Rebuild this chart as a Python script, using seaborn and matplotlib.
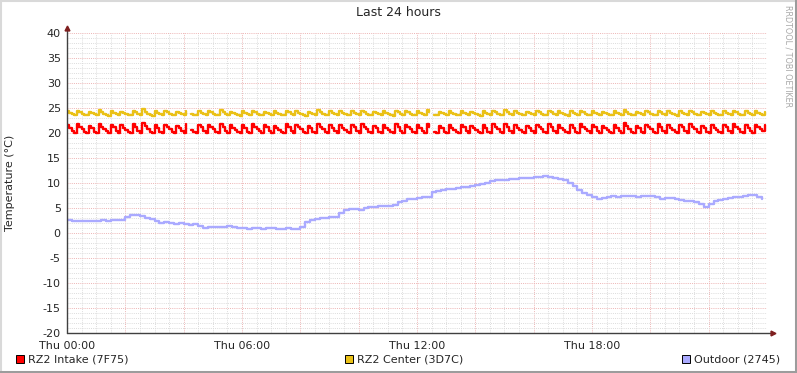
import numpy as np
import pandas as pd
import matplotlib
matplotlib.use("Agg")
import matplotlib.pyplot as plt
from matplotlib.ticker import MultipleLocator, FuncFormatter
from matplotlib.patches import Rectangle
from matplotlib.lines import Line2D
import seaborn as sns

nan = np.nan

# RZ2 Intake, 5 minute samples from Thu 00:00
intake = [
    21.6, 21.1, 20.4, 20.1, 21.8, 21.3, 20.8, 20.3, 20.1,
    21.5, 21.0, 20.3, 20.0, 21.9, 21.2, 20.9, 20.4, 20.1,
    21.7, 21.2, 20.5, 20.1, 21.6, 21.1, 20.7, 20.2, 20.0,
    21.8, 21.3, 20.4, 20.1, 22.0, 21.4, 20.9, 20.3, 20.1,
    21.6, 21.0, 20.3, 20.0, 21.7, 21.2, 20.8, 20.3, 20.0,
    21.5, 21.1, 20.4, 20.1, 21.8, nan, 20.7, 20.2, 20.0,
    21.6, 21.2, 20.5, 20.1, 21.7, 21.2, 20.8, 20.2, 20.0,
    21.9, 21.3, 20.4, 20.0, 21.6, 21.1, 20.7, 20.3, 20.1,
    21.7, 21.1, 20.3, 20.0, 21.8, 21.2, 20.9, 20.4, 20.1,
    21.6, 21.2, 20.4, 20.1, 21.5, 21.0, 20.6, 20.2, 20.0,
    21.8, 21.3, 20.5, 20.1, 21.7, 21.2, 20.8, 20.3, 20.0,
    21.5, 21.0, 20.3, 20.0, 21.9, 21.3, 20.8, 20.2, 20.0,
    21.6, 21.1, 20.4, 20.1, 21.6, 21.1, 20.7, 20.2, 20.0,
    21.7, 21.2, 20.4, 20.0, 21.8, 21.2, 20.8, 20.3, 20.1,
    21.5, 21.0, 20.3, 20.0, 21.6, 21.1, 20.7, 20.2, 20.0,
    21.8, 21.3, 20.5, 20.1, 21.7, 21.2, 20.8, 20.3, 20.0,
    21.6, 21.1, 20.4, 20.0, 21.9, 21.3, nan, 20.3, 20.1,
    21.5, 21.0, 20.3, 20.0, 21.6, 21.1, 20.6, 20.2, 20.0,
    21.7, 21.2, 20.4, 20.1, 21.5, 21.0, 20.7, 20.2, 20.0,
    21.6, 21.1, 20.3, 20.0, 21.8, 21.3, 20.8, 20.3, 20.1,
    21.8, 21.2, 20.5, 20.1, 21.6, 21.1, 20.7, 20.2, 20.0,
    21.5, 21.0, 20.4, 20.0, 21.7, 21.2, 20.8, 20.3, 20.0,
    21.9, 21.3, 20.4, 20.1, 21.6, 21.1, 20.6, 20.2, 20.0,
    21.6, 21.1, 20.3, 20.0, 21.8, 21.2, 20.9, 20.4, 20.1,
    21.7, 21.2, 20.5, 20.1, 21.5, 21.0, 20.6, 20.2, 20.0,
    21.6, 21.1, 20.4, 20.0, 22.0, 21.4, 20.9, 20.3, 20.1,
    21.5, 21.0, 20.3, 20.0, 21.7, 21.2, 20.8, 20.3, 20.0,
    21.8, 21.3, 20.4, 20.1, 21.6, 21.1, 20.7, 20.2, 20.0,
    21.6, 21.2, 20.5, 20.1, 21.9, 21.3, 20.8, 20.3, 20.1,
    21.5, 21.0, 20.3, 20.0, 21.6, 21.1, 20.7, 20.2, 20.0,
    21.7, 21.2, 20.4, 20.1, 21.8, 21.2, 20.8, 20.3, 20.0,
    21.6, 21.1, 20.4, 20.0, 21.7, 21.2, 20.8, 20.4, 21.6,
]

# RZ2 Center, 5 minute samples
center = [
    24.4, 24.1, 23.8, 23.6, 24.5, 24.2, 23.9, 23.7, 23.6,
    24.3, 24.0, 23.8, 23.6, 24.6, 24.2, 23.9, 23.7, 23.5,
    24.4, 24.1, 23.8, 23.6, 24.3, 24.0, 23.8, 23.7, 23.6,
    24.5, 24.2, 23.9, 23.7, 24.8, 24.3, 23.9, 23.6, 23.5,
    24.4, 24.0, 23.8, 23.6, 24.5, 24.2, 23.9, 23.7, 23.6,
    24.3, 24.1, 23.8, 23.6, 24.4, nan, 23.8, 23.7, 23.6,
    24.4, 24.1, 23.8, 23.6, 24.5, 24.2, 23.9, 23.7, 23.6,
    24.6, 24.2, 23.9, 23.7, 24.3, 24.0, 23.8, 23.6, 23.5,
    24.4, 24.1, 23.8, 23.6, 24.5, 24.2, 23.9, 23.7, 23.6,
    24.3, 24.0, 23.8, 23.6, 24.4, 24.1, 23.8, 23.7, 23.6,
    24.5, 24.2, 23.9, 23.7, 24.4, 24.1, 23.8, 23.6, 23.5,
    24.3, 24.0, 23.8, 23.6, 24.6, 24.2, 23.9, 23.7, 23.6,
    24.4, 24.1, 23.8, 23.6, 24.4, 24.1, 23.8, 23.7, 23.6,
    24.5, 24.1, 23.8, 23.6, 24.5, 24.2, 23.9, 23.7, 23.6,
    24.3, 24.0, 23.8, 23.6, 24.4, 24.1, 23.8, 23.6, 23.5,
    24.5, 24.2, 23.9, 23.7, 24.5, 24.2, 23.9, 23.7, 23.6,
    24.4, 24.1, 23.8, 23.6, 24.6, 24.2, nan, 23.7, 23.6,
    24.3, 24.0, 23.8, 23.6, 24.4, 24.1, 23.8, 23.7, 23.6,
    24.4, 24.1, 23.8, 23.6, 24.3, 24.0, 23.8, 23.6, 23.5,
    24.4, 24.1, 23.8, 23.6, 24.5, 24.2, 23.9, 23.7, 23.6,
    24.6, 24.2, 23.9, 23.7, 24.4, 24.1, 23.8, 23.7, 23.6,
    24.3, 24.0, 23.8, 23.6, 24.5, 24.2, 23.9, 23.7, 23.6,
    24.5, 24.2, 23.9, 23.7, 24.4, 24.1, 23.8, 23.6, 23.5,
    24.4, 24.1, 23.8, 23.6, 24.5, 24.2, 23.9, 23.7, 23.6,
    24.4, 24.1, 23.8, 23.6, 24.3, 24.0, 23.8, 23.7, 23.6,
    24.4, 24.1, 23.8, 23.6, 24.6, 24.2, 23.9, 23.7, 23.6,
    24.3, 24.0, 23.8, 23.6, 24.5, 24.2, 23.9, 23.7, 23.6,
    24.5, 24.2, 23.9, 23.7, 24.4, 24.1, 23.8, 23.6, 23.5,
    24.4, 24.1, 23.8, 23.6, 24.5, 24.2, 23.9, 23.7, 23.6,
    24.3, 24.0, 23.8, 23.6, 24.4, 24.1, 23.8, 23.7, 23.6,
    24.4, 24.1, 23.8, 23.6, 24.5, 24.2, 23.9, 23.7, 23.6,
    24.4, 24.1, 23.8, 23.6, 24.4, 24.1, 23.8, 23.7, 24.3,
]

# Outdoor, 10 minute samples, one row per hour
outdoor = [
    2.6, 2.5, 2.4, 2.5, 2.4, 2.5,
    2.5, 2.6, 2.5, 2.7, 2.6, 2.6,
    3.3, 3.6, 3.7, 3.5, 3.0, 2.9,
    2.5, 2.1, 2.2, 2.0, 1.9, 2.0,
    1.8, 1.7, 1.8, 1.4, 1.1, 1.2,
    1.2, 1.3, 1.3, 1.4, 1.3, 1.1,
    1.0, 0.9, 1.0, 1.0, 0.9, 1.0,
    1.0, 0.9, 0.9, 1.0, 0.9, 0.9,
    1.3, 2.3, 2.6, 2.8, 3.0, 3.1,
    3.2, 3.3, 4.0, 4.6, 4.9, 4.8,
    4.7, 5.0, 5.3, 5.2, 5.4, 5.5,
    5.4, 5.6, 6.3, 6.5, 6.8, 6.9,
    7.0, 7.2, 7.3, 8.2, 8.5, 8.7,
    8.8, 8.9, 9.1, 9.2, 9.3, 9.5,
    9.7, 9.9, 10.1, 10.4, 10.6, 10.6,
    10.7, 10.9, 10.9, 11.0, 11.0, 11.1,
    11.2, 11.2, 11.4, 11.3, 11.0, 10.9,
    10.6, 10.0, 9.5, 8.6, 8.0, 7.6,
    7.2, 6.9, 7.0, 7.3, 7.4, 7.3,
    7.5, 7.4, 7.4, 7.3, 7.4, 7.4,
    7.4, 7.2, 6.9, 7.1, 7.0, 6.8,
    6.6, 6.5, 6.4, 6.3, 5.9, 5.3,
    5.8, 6.5, 6.7, 6.9, 7.1, 7.2,
    7.3, 7.5, 7.6, 7.7, 7.3, 6.9,
]

tick_labels = {0: "Thu 00:00", 6: "Thu 06:00", 12: "Thu 12:00", 18: "Thu 18:00"}
names = ["RZ2 Intake (7F75)", "RZ2 Center (3D7C)", "Outdoor (2745)"]
colors = ["#FF0000", "#EAC117", "#AAAAFF"]


def frame(vals, step_min):
    df = pd.DataFrame({"hour": np.arange(len(vals)) * step_min / 60.0, "temp": vals})
    df["seg"] = df["temp"].isna().cumsum()
    return df.dropna()


sns.set_style("white")
plt.rcParams["font.family"] = ["DejaVu Sans"]

fig = plt.figure(figsize=(7.97, 3.73), dpi=100)
ax = fig.add_axes([67 / 797, 40 / 373, 700 / 797, 300 / 373])

for vals, step, c in [(intake, 5, colors[0]), (center, 5, colors[1]), (outdoor, 10, colors[2])]:
    sns.lineplot(data=frame(vals, step), x="hour", y="temp", units="seg", estimator=None,
                 color=c, lw=1.7, drawstyle="steps-post", ax=ax, legend=False, zorder=3)

ax.set_xlim(0, 24)
ax.set_ylim(-20, 40)
ax.xaxis.set_major_locator(MultipleLocator(2))
ax.xaxis.set_minor_locator(MultipleLocator(0.5))
ax.yaxis.set_major_locator(MultipleLocator(5))
ax.yaxis.set_minor_locator(MultipleLocator(1))
ax.xaxis.set_major_formatter(FuncFormatter(
    lambda v, p: tick_labels.get(int(round(v)), "") if abs(v - round(v)) < 1e-6 else ""))
ax.yaxis.set_major_formatter(FuncFormatter(lambda v, p: f"{v:.0f}"))

ax.grid(which="minor", color="#DCDCDC", lw=0.7, ls=(0, (1, 1.2)), zorder=0)
ax.grid(which="major", color="#EDB4B4", lw=0.7, ls=(0, (1, 1.2)), zorder=1)
ax.set_axisbelow(True)
ax.set_xlabel("")
ax.set_ylabel("")
for s in ax.spines.values():
    s.set_visible(False)

ax.tick_params(which="major", length=2.5, width=0.8, color="#D09090", labelsize=8, pad=2)
ax.tick_params(which="minor", length=1.5, width=0.6, color="#C0C0C0")
ax.tick_params(axis="x", pad=3)

# axes with arrows like rrdtool
axc = "#404040"
ax.plot([0, 0], [0, 1.015], transform=ax.transAxes, color=axc, lw=1, clip_on=False, zorder=5)
ax.plot([0, 1.007], [0, 0], transform=ax.transAxes, color=axc, lw=1, clip_on=False, zorder=5)
ax.plot([0], [1.017], transform=ax.transAxes, marker="^", ms=3.5, color="#7F1F1F", clip_on=False, zorder=6)
ax.plot([1.009], [0], transform=ax.transAxes, marker=">", ms=3.5, color="#7F1F1F", clip_on=False, zorder=6)

fig.text(398 / 797, 1 - 13 / 373, "Last 24 hours", ha="center", va="center", fontsize=9)
fig.text(10 / 797, 1 - 183 / 373, "Temperature (°C)", rotation=90, ha="center", va="center", fontsize=8)
fig.text(788 / 797, 1 - 5 / 373, "RRDTOOL / TOBI OETIKER", rotation=270, ha="center", va="top",
         fontsize=5.8, color="#A8A8A8")

# legend boxes along the bottom
for (x0, name, c) in zip([16, 345, 682], names, colors):
    fig.add_artist(Rectangle((x0 / 797, 1 - 363 / 373), 8 / 797, 8 / 373, facecolor=c,
                             edgecolor="black", lw=0.7, transform=fig.transFigure))
    fig.text((x0 + 12) / 797, 1 - 359 / 373, name, ha="left", va="center", fontsize=8)

# frame shading
fig.add_artist(Line2D([0, 1], [1 - 0.5 / 373, 1 - 0.5 / 373], color="#D9D9D9", lw=1.5, transform=fig.transFigure))
fig.add_artist(Line2D([0.5 / 797, 0.5 / 797], [0, 1], color="#D9D9D9", lw=1.5, transform=fig.transFigure))
fig.add_artist(Line2D([0, 1], [1.5 / 373, 1.5 / 373], color="#9C9C9C", lw=2.2, transform=fig.transFigure))
fig.add_artist(Line2D([1 - 1.5 / 797, 1 - 1.5 / 797], [0, 1], color="#9C9C9C", lw=2.2, transform=fig.transFigure))

fig.savefig("out.png", dpi=100)
